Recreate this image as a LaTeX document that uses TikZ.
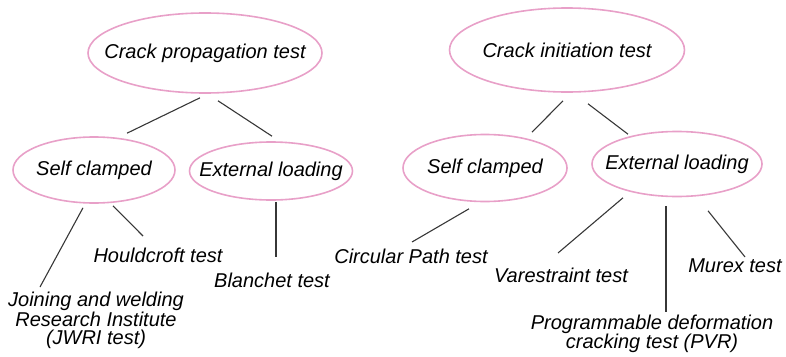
\documentclass[tikz,border=0pt]{standalone}
\usepackage{fontspec}
\setmainfont{Liberation Sans}
\usetikzlibrary{shapes.geometric}
\definecolor{ovalpink}{RGB}{232,160,200}
\definecolor{linkgray}{RGB}{55,55,55}
\newcommand{\ovtext}[1]{\makebox[0pt]{#1}}
\begin{document}
\begin{tikzpicture}[x=1pt, y=-1pt,
    oval/.style={ellipse, draw=ovalpink, line width=1.6pt, inner sep=0pt},
    leaf/.style={inner sep=0pt, align=center},
    link/.style={draw=linkgray, line width=1.1pt},
    font=\fontsize{20}{18}\selectfont\itshape]
\useasboundingbox (0,0) rectangle (786,356);
% ovals
\node[oval, minimum width=234pt, minimum height=80pt] (cpt) at (205,53) {\ovtext{Crack propagation test}};
\node[oval, minimum width=235pt, minimum height=84pt] (cit) at (567,50) {\ovtext{Crack initiation test}};
\node[oval, minimum width=162pt, minimum height=66pt] (scl) at (94,170) {\ovtext{Self clamped}};
\node[oval, minimum width=163pt, minimum height=58pt] (ell) at (271,171) {\ovtext{External loading}};
\node[oval, minimum width=164pt, minimum height=67pt] (scr) at (485,168) {\ovtext{Self clamped}};
\node[oval, minimum width=170pt, minimum height=65pt] (elr) at (677,164) {\ovtext{External loading}};
% tests
\node[leaf] (jwri) at (96,320) {Joining and welding\\Research Institute\\(JWRI test)};
\node[leaf] (hct) at (158,255) {Houldcroft test};
\node[leaf] (bla) at (272,280) {Blanchet test};
\node[leaf] (cpth) at (411,256) {Circular Path test};
\node[leaf] (var) at (561,275) {Varestraint test};
\node[leaf] (pvr) at (652,334) {Programmable deformation\\cracking test (PVR)};
\node[leaf] (mur) at (735,266) {Murex test};
% links
\draw[link] ([shift={(-5,4)}]cpt.south) -- ([shift={(33,-3)}]scl.north);
\draw[link] ([shift={(13,7)}]cpt.south) -- ([shift={(1,-5)}]ell.north);
\draw[link] ([shift={(-4,8)}]cit.south) -- ([shift={(47,-1.5)}]scr.north);
\draw[link] ([shift={(21,11)}]cit.south) -- ([shift={(-49,3.5)}]elr.north);
\draw[link] ([shift={(-11,4)}]scl.south) -- ([shift={(-56,-33)}]jwri.center);
\draw[link] ([shift={(19,2)}]scl.south) -- ([shift={(-15,-19)}]hct.center);
\draw[link] ([shift={(5,1)}]ell.south) -- ([shift={(4,-23)}]bla.center);
\draw[link] ([shift={(-16,6.5)}]scr.south) -- ([shift={(1,-14)}]cpth.center);
\draw[link] ([shift={(-54,0.5)}]elr.south) -- ([shift={(-3,-22)}]var.center);
\draw[link] ([shift={(-11,8.5)}]elr.south) -- ([shift={(14,-22)}]pvr.center);
\draw[link] ([shift={(31,13.5)}]elr.south) -- ([shift={(10,-9)}]mur.center);
\end{tikzpicture}
\end{document}
